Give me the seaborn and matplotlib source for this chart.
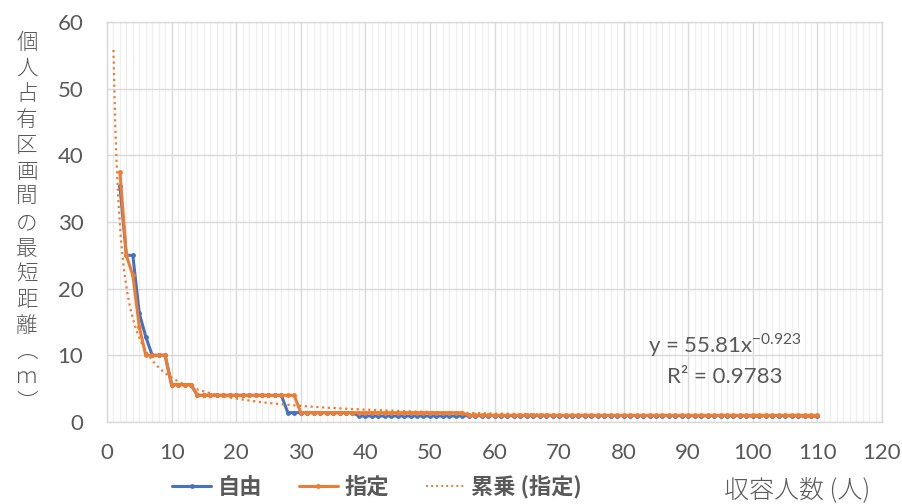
import seaborn as sns
import matplotlib.pyplot as plt
from matplotlib.lines import Line2D
from matplotlib.ticker import MultipleLocator
import numpy as np
import pandas as pd

# 収容人数 (x) 2..110
people = list(range(2, 111))

# 自由 (blue)
free_dist = ([35.4, 25.0, 25.0, 16.3, 12.8] + [10.0] * 3 + [5.6] * 4 +
             [4.0] * 14 + [1.4] * 11 + [0.9] * 17 + [0.95] * 55)
# 指定 (orange)
fixed_dist = ([37.5, 25.0, 22.0, 14.3] + [10.0] * 4 + [5.6] * 4 +
              [4.0] * 16 + [1.4] * 26 + [1.0] * 55)

# power trendline of 指定, as stated on the chart
trend_a = 55.81
trend_b = -0.923
trend_r2 = 0.9783
trend_x = np.linspace(1, 110, 400)

series_names = ["自由", "指定"]
colors = {"自由": "#4472C4", "指定": "#ED7D31"}
grey = "#595959"

df = pd.DataFrame({
    "x": people * 2,
    "y": free_dist + fixed_dist,
    "series": ["自由"] * len(people) + ["指定"] * len(people),
})

sns.set_theme(style="white")
plt.rcParams["font.family"] = ["Noto Sans CJK JP", "DejaVu Sans"]
plt.rcParams["mathtext.fontset"] = "custom"
plt.rcParams["mathtext.rm"] = "Lato"

fig = plt.figure(figsize=(9.03, 5.04), dpi=100)
ax = fig.add_axes([107 / 903, 1 - 422 / 504, 775 / 903, 400 / 504])

sns.lineplot(data=df, x="x", y="y", hue="series", hue_order=series_names,
             palette=colors, marker="o", markersize=3.5, markeredgewidth=0,
             linewidth=2.2, legend=False, ax=ax, zorder=3)

trend_y = trend_a * trend_x ** trend_b
ax.plot(trend_x, trend_y, color="#ED7D31", linewidth=1.6,
        linestyle=(0, (1, 1.6)), zorder=4)

ax.set_xlim(0, 120)
ax.set_ylim(0, 60)
ax.xaxis.set_major_locator(MultipleLocator(10))
ax.xaxis.set_minor_locator(MultipleLocator(1))
ax.yaxis.set_major_locator(MultipleLocator(10))
ax.grid(which="major", color="#D9D9D9", linewidth=1.0)
ax.grid(which="minor", axis="x", color="#EFEFEF", linewidth=0.9)
ax.set_axisbelow(True)
for s in ax.spines.values():
    s.set_color("#D9D9D9")
    s.set_linewidth(1.0)

ax.tick_params(which="both", length=0, labelcolor=grey)
ax.tick_params(axis="x", pad=15)
ax.tick_params(axis="y", pad=17)
for lab in ax.get_xticklabels() + ax.get_yticklabels():
    lab.set_family(["Lato", "DejaVu Sans"])
    lab.set_fontsize(16)

ax.set_xlabel("")
ax.set_ylabel("")

ylab = "個人占有区画間の最短距離︵ｍ︶"
fig.text(27 / 903, 1 - 223 / 504, "\n".join(ylab), ha="center", va="center",
         fontsize=15.5, color=grey, linespacing=1.22, fontweight="light")
fig.text(797 / 903, 1 - 490 / 504, "収容人数 (人)", ha="center", va="center",
         fontsize=18, color=grey, fontweight="light")

ax.text(95.7, 11.5, r"y = 55.81x$^{\mathregular{" + f"{trend_b}" + "}}$",
        ha="center", va="center", fontsize=16, color=grey,
        family=["Lato", "DejaVu Sans"])
ax.text(95.7, 6.7, f"R² = {trend_r2}", ha="center", va="center",
        fontsize=16, color=grey, family=["Lato", "DejaVu Sans"])

handles = [
    Line2D([], [], color=colors["自由"], linewidth=2.2, marker="o",
           markersize=3.5, markevery=[1], markeredgewidth=0),
    Line2D([], [], color=colors["指定"], linewidth=2.2, marker="o",
           markersize=3.5, markevery=[1], markeredgewidth=0),
    Line2D([], [], color="#ED7D31", linewidth=1.4, linestyle=(0, (1, 1.6))),
]
for h in handles[:2]:
    h.set_xdata([0, 0.5, 1])
    h.set_ydata([0, 0, 0])
leg = fig.legend(handles, ["自由", "指定", "累乗 (指定)"], loc="center",
                 bbox_to_anchor=(377 / 903, 1 - 487 / 504), ncol=3,
                 frameon=False, handlelength=1.75, columnspacing=1.65,
                 handletextpad=0.3,
                 prop={"family": ["Noto Sans CJK JP", "DejaVu Sans"],
                       "weight": "bold", "size": 16})
for t in leg.get_texts():
    t.set_color(grey)

fig.savefig("out.png", dpi=100)
